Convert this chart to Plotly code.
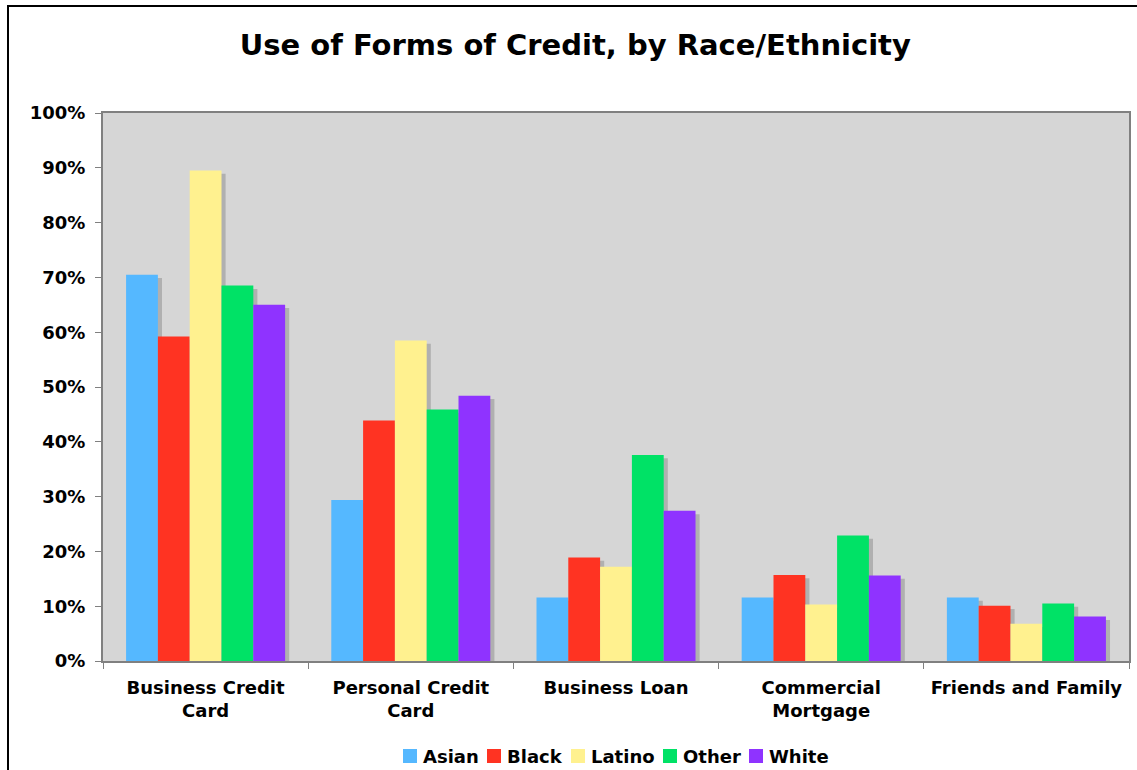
import plotly.graph_objects as go

# Share of firms using each form of credit (%), by race/ethnicity
categories = [
    "Business Credit<br>Card",
    "Personal Credit<br>Card",
    "Business Loan",
    "Commercial<br>Mortgage",
    "Friends and Family",
]
groups = ["Asian", "Black", "Latino", "Other", "White"]
asian = [70.5, 29.4, 11.6, 11.6, 11.6]
black = [59.2, 43.9, 18.9, 15.7, 10.1]
latino = [89.5, 58.5, 17.2, 10.3, 6.8]
other = [68.5, 45.9, 37.6, 22.9, 10.5]
white = [65.0, 48.4, 27.4, 15.6, 8.1]
series = [asian, black, latino, other, white]
colors = ["#55b8ff", "#ff3322", "#fff18f", "#00e266", "#8f33ff"]

FONT = "DejaVu Sans"
W, H = 1137, 770
PLOT_L, PLOT_R, PLOT_T, PLOT_B = 103, 1129, 113, 661
bar_w = 0.155
group_left = -bar_w * len(groups) / 2


def px_x(px):
    return (px - PLOT_L) / (PLOT_R - PLOT_L)


def px_y(py):
    return (PLOT_B - py) / (PLOT_B - PLOT_T)


fig = go.Figure()

# drop shadows behind each bar
for i, vals in enumerate(series):
    fig.add_trace(go.Bar(
        x=categories, y=[v - 0.6 for v in vals],
        width=bar_w, offset=group_left + i * bar_w + 0.02,
        marker=dict(color="#b0b0b0", line=dict(width=0)),
        showlegend=False, hoverinfo="skip",
    ))

for i, (name, vals) in enumerate(zip(groups, series)):
    fig.add_trace(go.Bar(
        x=categories, y=vals, name=name,
        width=bar_w, offset=group_left + i * bar_w,
        marker=dict(color=colors[i], line=dict(width=0)),
        showlegend=False,
    ))

fig.update_layout(
    width=W, height=H,
    margin=dict(l=PLOT_L, r=W - PLOT_R, t=PLOT_T, b=H - PLOT_B, autoexpand=False),
    barmode="overlay",
    paper_bgcolor="white",
    plot_bgcolor="#d6d6d6",
    font=dict(family=FONT, size=18, color="black"),
    title=dict(
        text="<b>Use of Forms of Credit, by Race/Ethnicity</b>",
        x=0.506, xanchor="center", xref="container",
        y=1 - 45 / H, yanchor="middle", yref="container",
        font=dict(family=FONT, size=29, color="black"),
    ),
    showlegend=False,
)

fig.update_xaxes(
    type="category", automargin=False,
    showline=True, linecolor="#808080", linewidth=2, mirror=True,
    ticks="outside", tickson="boundaries", ticklen=6, tickcolor="#808080",
    tickfont=dict(family=FONT, size=18, color="black", weight="bold"),
    showgrid=False, ticklabelstandoff=9,
)
fig.update_yaxes(
    range=[0, 100], dtick=10, ticksuffix="%", automargin=False,
    showline=True, linecolor="#808080", linewidth=2, mirror=True,
    ticks="outside", ticklen=6, tickcolor="#808080",
    tickfont=dict(family=FONT, size=18, color="black", weight="bold"),
    showgrid=False, zeroline=False, ticklabelstandoff=6,
)

# legend row below the axis: colour swatch followed by the group name
legend_starts = [403, 487, 571, 663, 749]
legend_y = 756
swatch = 14
for name, color, x0 in zip(groups, colors, legend_starts):
    fig.add_shape(
        type="rect", xref="paper", yref="paper",
        x0=px_x(x0), x1=px_x(x0 + swatch),
        y0=px_y(legend_y + swatch / 2), y1=px_y(legend_y - swatch / 2),
        fillcolor=color, line=dict(width=0),
    )
    fig.add_annotation(
        text=f"<b>{name}</b>", xref="paper", yref="paper",
        x=px_x(x0 + swatch + 4), y=px_y(legend_y),
        xanchor="left", yanchor="middle", showarrow=False,
        font=dict(family=FONT, size=18, color="black"),
    )

# outer frame around the chart
fig.add_shape(
    type="rect", xref="paper", yref="paper",
    x0=px_x(8), x1=1.3, y0=-0.5, y1=px_y(6),
    line=dict(color="black", width=2), fillcolor="rgba(0,0,0,0)",
    layer="below",
)

fig.write_html("out.html")
